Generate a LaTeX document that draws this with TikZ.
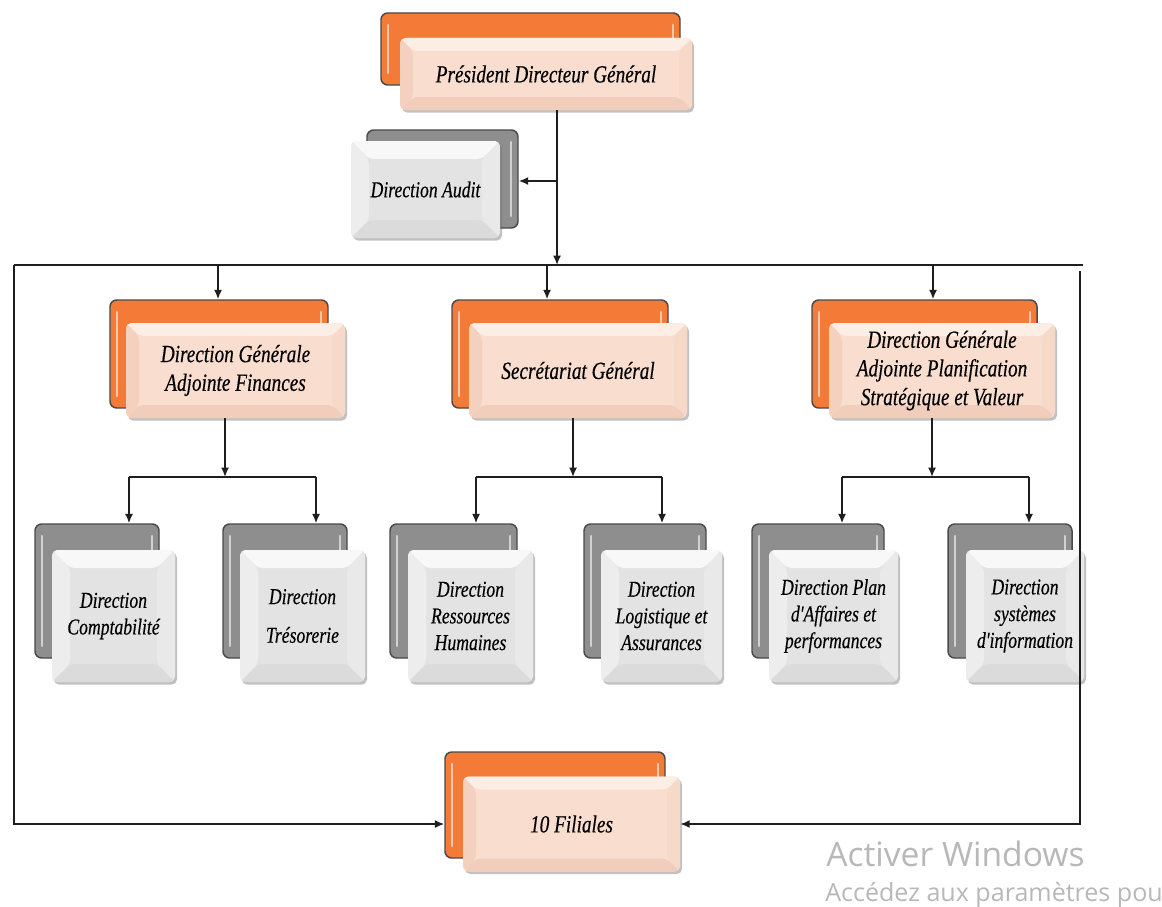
\documentclass[tikz,border=0pt]{standalone}
\usepackage{fontspec}
\setmainfont{Liberation Serif}
\newfontfamily\orgfont[FakeStretch=0.78,FakeBold=0.35]{Liberation Serif}
\newfontfamily\winfont{Open Sans}
\usetikzlibrary{calc,shadows,arrows.meta}

\definecolor{orangeback}{HTML}{F47A37}
\definecolor{grayback}{HTML}{8E8E8E}
\definecolor{edgedark}{HTML}{4A4A4A}
\definecolor{peach}{HTML}{F9DDCF}
\definecolor{peachtop}{HTML}{FCEDE5}
\definecolor{peachleft}{HTML}{F4D0BF}
\definecolor{peachright}{HTML}{F7D9CA}
\definecolor{peachbot}{HTML}{F1CDBB}
\definecolor{silver}{HTML}{E3E3E3}
\definecolor{silvertop}{HTML}{F8F8F8}
\definecolor{silverleft}{HTML}{EDEDED}
\definecolor{silverright}{HTML}{E9E9E9}
\definecolor{silverbot}{HTML}{DBDBDB}
\definecolor{inkline}{HTML}{1E1E1E}
\definecolor{watermark}{HTML}{B8B8B8}

\newcommand\toptext{\orgfont\itshape\fontsize{18.5}{21.5}\selectfont}
\newcommand\subtext{\orgfont\itshape\fontsize{17}{20}\selectfont}

\tikzset{
  conn/.style={draw=inkline, line width=1.3pt},
  arr/.style={conn, -{Latex[length=7pt,width=6pt]}},
  % rear card with light highlight strips along its sides
  backbox/.style n args={3}{rectangle, rounded corners=5pt, draw=edgedark,
    line width=1.1pt, fill=#1, minimum width=#2*0.75pt,
    minimum height=#3*0.75pt, inner sep=0pt,
    path picture={
      \draw[white, opacity=.6, line width=1.8pt, line cap=round]
        ($(path picture bounding box.north west)+(7,12)$) --
        ($(path picture bounding box.south west)+(7,-12)$)
        ($(path picture bounding box.north east)+(-7,12)$) --
        ($(path picture bounding box.south east)+(-7,-12)$);
    }},
  % bevelled face: width / top / left / right / bottom colours
  bevel/.style n args={5}{path picture={
      \path (path picture bounding box.north west) coordinate (bvA)
            (path picture bounding box.north east) coordinate (bvB)
            (path picture bounding box.south east) coordinate (bvC)
            (path picture bounding box.south west) coordinate (bvD);
      \fill[#2] (bvA) -- (bvB) -- ($(bvB)+(-#1,#1)$) -- ($(bvA)+(#1,#1)$) -- cycle;
      \fill[#3] (bvA) -- (bvD) -- ($(bvD)+(#1,-#1)$) -- ($(bvA)+(#1,#1)$) -- cycle;
      \fill[#4] (bvB) -- (bvC) -- ($(bvC)+(-#1,-#1)$) -- ($(bvB)+(-#1,#1)$) -- cycle;
      \fill[#5] (bvD) -- (bvC) -- ($(bvC)+(-#1,-#1)$) -- ($(bvD)+(#1,-#1)$) -- cycle;
    }},
  frontO/.style 2 args={rectangle, rounded corners=4pt, fill=peach,
    minimum width=#1*0.75pt, minimum height=#2*0.75pt, inner sep=0pt,
    align=center, text=black, font=\toptext,
    drop shadow={shadow xshift=1.5pt, shadow yshift=-2pt, opacity=.4, fill=black!60},
    bevel={13}{peachtop}{peachleft}{peachright}{peachbot}},
  frontG/.style 2 args={rectangle, rounded corners=4pt, fill=silver,
    minimum width=#1*0.75pt, minimum height=#2*0.75pt, inner sep=0pt,
    align=center, text=black, font=\subtext,
    drop shadow={shadow xshift=1.5pt, shadow yshift=-2pt, opacity=.4, fill=black!60},
    bevel={18}{silvertop}{silverleft}{silverright}{silverbot}},
  wmtext/.style={anchor=base west, inner sep=0pt, text=watermark},
}

\begin{document}
\begin{tikzpicture}[x=0.75pt,y=-0.75pt]
\useasboundingbox (0,0) rectangle (1162,906);
\clip (0,0) rectangle (1162,906);
\fill[white] (0,0) rectangle (1162,906);

% ---- top management
\node[backbox={orangeback}{299}{72}] (pdgB) at (530.5,49) {};
\node[frontO={292}{72}] (pdg) at (546,74) {Président Directeur Général};

\node[backbox={grayback}{151}{98}] (audB) at (442.5,179) {};
\node[frontG={149}{97}] (aud) at (425.5,189.5) {Direction Audit};

% ---- general directions
\node[backbox={orangeback}{218}{108}] (finB) at (219,354) {};
\node[frontO={219}{95}] (fin) at (235.5,370.5) {Direction Générale\\Adjointe Finances};

\node[backbox={orangeback}{216}{108}] (secB) at (560,354) {};
\node[frontO={218}{95}] (sec) at (578,370.5) {Secrétariat Général};

\node[backbox={orangeback}{225}{108}] (plaB) at (924.5,354) {};
\node[frontO={226}{95}] (pla) at (942,370.5) {Direction Générale\\Adjointe Planification\\Stratégique et Valeur};

% ---- directions
\node[backbox={grayback}{124}{134}] (comB) at (97,591) {};
\node[frontG={123}{132}] (com) at (113.5,616) {Direction\\Comptabilité};

\node[backbox={grayback}{124}{134}] (treB) at (285,591) {};
\node[frontG={125}{132}] (tre) at (302.5,616) {Direction\\[9pt]Trésorerie};

\node[backbox={grayback}{127}{134}] (rhB) at (453.5,591) {};
\node[frontG={125}{132}] (rh) at (470.5,616) {Direction\\Ressources\\Humaines};

\node[backbox={grayback}{122}{134}] (logB) at (645,591) {};
\node[frontG={121}{132}] (log) at (661.5,616) {Direction\\Logistique et\\Assurances};

\node[backbox={grayback}{132}{134}] (pafB) at (818,591) {};
\node[frontG={129}{132}] (paf) at (833.5,616) {Direction Plan\\d'Affaires et\\performances};

\node[backbox={grayback}{124}{134}] (sysB) at (1010,591) {};
\node[frontG={118}{132}] (sys) at (1025,616) {Direction\\systèmes\\d'information};

% ---- subsidiaries
\node[backbox={orangeback}{220}{106}] (filB) at (555,805) {};
\node[frontO={217}{95}] (fil) at (571.5,824) {10 Filiales};

% ---- connectors
\coordinate (trunk) at (557,265);
\coordinate (audJ) at (557,181);
\coordinate (busL) at (14,265);
\coordinate (busR) at (1083,265);
\coordinate (rTop) at (1080,271);

\draw[arr] (pdg.south -| trunk) -- (trunk);
\draw[arr] (audJ) -- (audJ -| audB.east);
\draw[conn] (busL) -- (busR);

\coordinate (bFin) at (218,265);
\coordinate (bSec) at (547,265);
\coordinate (bPla) at (933,265);
\draw[arr] (bFin) -- (bFin |- finB.north);
\draw[arr] (bSec) -- (bSec |- secB.north);
\draw[arr] (bPla) -- (bPla |- plaB.north);

% finance branch
\coordinate (fJ) at (225,477);
\coordinate (fL) at (129,477);
\coordinate (fR) at (316,477);
\draw[arr] (fin.south -| fJ) -- (fJ);
\draw[conn] (fL) -- (fR);
\draw[arr] (fL) -- (fL |- comB.north);
\draw[arr] (fR) -- (fR |- treB.north);

% general secretariat branch
\coordinate (sJ) at (573,477);
\coordinate (sL) at (476,477);
\coordinate (sR) at (662,477);
\draw[arr] (sec.south -| sJ) -- (sJ);
\draw[conn] (sL) -- (sR);
\draw[arr] (sL) -- (sL |- rhB.north);
\draw[arr] (sR) -- (sR |- logB.north);

% planning branch
\coordinate (pJ) at (932,477);
\coordinate (pL) at (842,477);
\coordinate (pR) at (1029,477);
\draw[arr] (pla.south -| pJ) -- (pJ);
\draw[conn] (pL) -- (pR);
\draw[arr] (pL) -- (pL |- pafB.north);
\draw[arr] (pR) -- (pR |- sysB.north);

% loops down to the subsidiaries
\draw[arr] (busL) -- (busL |- fil.center) -- (fil.center -| filB.west);
\draw[arr] (rTop) -- (rTop |- fil.center) -- (fil.east);

% ---- system notice
\node[wmtext, font=\winfont\fontsize{25.2}{27}\selectfont] (wm1) at (826,866) {Activer Windows};
\node[wmtext, font=\winfont\fontsize{18.8}{21}\selectfont] (wm2) at (825,901) {Accédez aux paramètres pou};
\end{tikzpicture}
\end{document}
